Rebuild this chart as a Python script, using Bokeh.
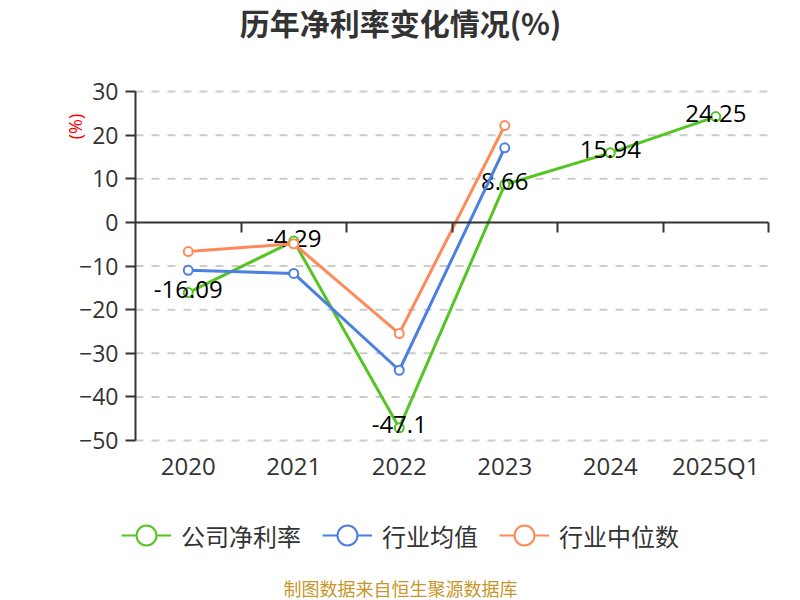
import math
from bokeh.plotting import figure
from bokeh.models import (Range1d, FixedTicker, Legend, LegendItem, ColumnDataSource,
                          Label, LinearAxis)
from bokeh.core.properties import value
from bokeh.embed import file_html
from bokeh.resources import INLINE

categories = ["2020", "2021", "2022", "2023", "2024", "2025Q1"]
company = [-16.09, -4.29, -47.1, 8.66, 15.94, 24.25]
industry_mean = [-11.0, -11.7, -33.9, 17.1]
industry_median = [-6.7, -4.9, -25.5, 22.2]
y_ticks = [-50, -40, -30, -20, -10, 0, 10, 20, 30]
series_names = ["公司净利率", "行业均值", "行业中位数"]
colors = ["#56c423", "#4b7fe2", "#fe8a5b"]
title_text = "历年净利率变化情况(%)"
unit_text = "(%)"
source_text = "制图数据来自恒生聚源数据库"

NUM = "Open Sans"
CJK = "Noto Sans CJK SC"
AXIS_C = "#333333"

W, H = 800, 600
# plotting area in canvas pixels
PL, PR, PT, PB = 135, 768, 91, 440

n = len(categories)
ymin, ymax = min(y_ticks), max(y_ticks)
centers = [i + 0.5 for i in range(n)]
bounds = [i + 1 for i in range(n)]

# ranges extended so that the whole canvas is the frame and the chart area sits at PL..PR, PT..PB
xu = n / (PR - PL)
yu = (ymax - ymin) / (PB - PT)
x_range = Range1d(-PL * xu, n + (W - PR) * xu)
y_range = Range1d(ymin - (H - PB) * yu, ymax + PT * yu)

p = figure(width=W, height=H, x_range=x_range, y_range=y_range,
           output_backend="svg", toolbar_location=None, title=None,
           min_border=0, x_axis_type=None, y_axis_type=None)
p.outline_line_color = None
p.background_fill_color = "white"
p.border_fill_color = "white"

# horizontal dashed grid lines, limited to the chart area
p.xgrid.visible = False
p.ygrid.visible = False
grid_src = ColumnDataSource(dict(y=[t for t in y_ticks if t != 0]))
p.segment(x0=0, x1=n, y0="y", y1="y", source=grid_src, line_color="#cccccc",
          line_width=2, line_dash="8 8")

# y axis at x = 0
ya = LinearAxis(ticker=FixedTicker(ticks=y_ticks), fixed_location=0, bounds=(ymin, ymax))
ya.axis_line_color = AXIS_C
ya.axis_line_width = 2
ya.major_tick_line_color = AXIS_C
ya.major_tick_line_width = 2
ya.major_tick_out = 10
ya.major_tick_in = 0
ya.minor_tick_line_color = None
ya.major_label_standoff = 7
ya.major_label_text_font = NUM
ya.major_label_text_font_size = "23px"
ya.major_label_text_color = AXIS_C
p.add_layout(ya, "left")

# category labels at the bottom of the chart area
xa = LinearAxis(ticker=FixedTicker(ticks=centers), fixed_location=ymin)
xa.major_label_overrides = {c: lab for c, lab in zip(centers, categories)}
xa.axis_line_color = None
xa.major_tick_line_color = None
xa.major_tick_out = 0
xa.major_tick_in = 0
xa.minor_tick_line_color = None
xa.major_label_text_font = NUM
xa.major_label_text_font_size = "24px"
xa.major_label_text_color = AXIS_C
xa.major_label_standoff = 8
p.add_layout(xa, "below")

# category axis line at y = 0 with ticks at the category boundaries
za = LinearAxis(ticker=FixedTicker(ticks=bounds), fixed_location=0, bounds=(0, n))
za.major_label_overrides = {b: "" for b in bounds}
za.axis_line_color = AXIS_C
za.axis_line_width = 2
za.major_tick_line_color = AXIS_C
za.major_tick_line_width = 2
za.major_tick_out = 10
za.major_tick_in = 0
za.minor_tick_line_color = None
p.add_layout(za, "below")

def series(vals, color, labels=False):
    xs = centers[:len(vals)]
    src = ColumnDataSource(dict(x=xs, y=vals, t=[str(v) for v in vals]))
    p.line("x", "y", source=src, line_color=color, line_width=3)
    p.scatter("x", "y", source=src, size=9, fill_color="white", line_color=color, line_width=2)
    if labels:
        p.text("x", "y", text="t", source=src, text_align="center", text_baseline="middle",
               y_offset=-3, text_font=value(NUM), text_font_size="24px", text_color="#000000")

series(company, colors[0], labels=True)
series(industry_mean, colors[1])
series(industry_median, colors[2])

# legend-only renderers (no visible point in the chart)
items = []
for name, color in zip(series_names, colors):
    dummy = ColumnDataSource(dict(x=[float("nan")], y=[float("nan")]))
    lr = p.line("x", "y", source=dummy, line_color=color, line_width=2)
    sr = p.scatter("x", "y", source=dummy, size=20, fill_color="white", line_color=color, line_width=2)
    items.append(LegendItem(label=name, renderers=[lr, sr], index=0))

legend = Legend(items=items, location=(121, 40), orientation="horizontal",
                glyph_width=50, glyph_height=50, label_standoff=10, spacing=21,
                padding=0, margin=0, border_line_color=None, background_fill_alpha=0,
                label_text_font=CJK, label_text_font_size="24px", label_text_color=AXIS_C)
p.add_layout(legend)

p.add_layout(Label(x=400, y=21, x_units="canvas", y_units="canvas", text=title_text,
                   text_align="center", text_baseline="middle", text_font=CJK,
                   text_font_size="30px", text_font_style="bold", text_color=AXIS_C))
p.add_layout(Label(x=74, y=126, x_units="canvas", y_units="canvas", text=unit_text, angle=math.pi / 2,
                   text_align="center", text_baseline="middle", text_font=NUM,
                   text_font_size="18px", text_color="#ff0000"))
p.add_layout(Label(x=400, y=587, x_units="canvas", y_units="canvas", text=source_text,
                   text_align="center", text_baseline="middle", text_font=CJK,
                   text_font_size="18px", text_color="#c8962a"))

open("out.html", "w").write(file_html(p, INLINE))
